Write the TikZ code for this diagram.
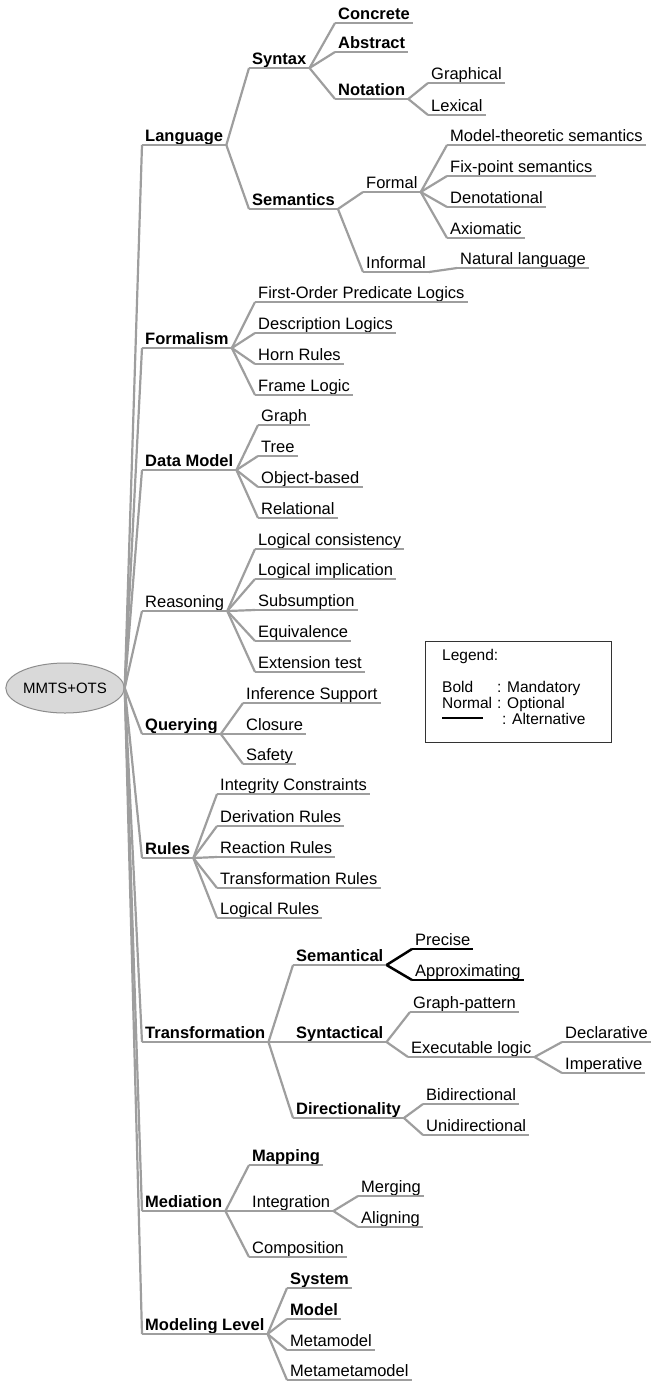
\documentclass[tikz,border=0pt]{standalone}
\usepackage{fontspec}
\setmainfont{Liberation Sans}
\usetikzlibrary{shapes.geometric,positioning}
\definecolor{linegray}{RGB}{158,158,158}
\begin{document}
\begin{tikzpicture}[x=1pt,y=-1pt,
  uline/.style={draw=linegray, line width=2.2pt},
  altline/.style={draw=black, line width=2.5pt},
  link/.style={uline},
  item/.style={anchor=south west, inner xsep=3pt, inner ysep=3pt, text depth=0pt,
    font=\fontsize{16.5}{19}\selectfont,
    append after command={(\tikzlastnode.south west) edge[#1] (\tikzlastnode.south east)}},
  item/.default=uline,
  opt/.style={item},
  mand/.style={item, font=\fontsize{16.5}{19}\selectfont\bfseries},
  alt/.style={item=altline},
  root/.style={ellipse, draw=gray!90, fill=gray!30, line width=1pt, minimum width=104pt,
    minimum height=50pt, inner sep=0pt, font=\fontsize{15}{18}\selectfont},
  legendbox/.style={draw=black!80, line width=0.8pt, anchor=north west, minimum width=186pt,
    minimum height=101pt, inner sep=0pt},
  legendtext/.style={anchor=north west, inner sep=0pt, font=\fontsize{15.5}{16}\selectfont}]
\useasboundingbox (0,0) rectangle (662,1382);
\node[root] (root) at (65,688) {MMTS+OTS};
\node[mand] (lang) at (142,145) {Language};
\node[mand] (formalism) at (142,348) {Formalism};
\node[mand] (datamodel) at (142,470) {Data Model};
\node[opt] (reasoning) at (142,611) {Reasoning};
\node[mand] (querying) at (142,734) {Querying};
\node[mand] (rules) at (142,858) {Rules};
\node[mand] (transf) at (142,1042) {Transformation};
\node[mand] (mediation) at (142,1211) {Mediation};
\node[mand] (modlevel) at (142,1334) {Modeling Level};
\node[mand] (syntax) at (249,68) {Syntax};
\node[mand] (semantics) at (249,209) {Semantics};
\node[mand] (concrete) at (335,23) {Concrete};
\node[mand] (abstract) at (335,52) {Abstract};
\node[mand] (notation) at (335,99) {Notation};
\node[opt] (graphical) at (428,83) {Graphical};
\node[opt] (lexical) at (428,115) {Lexical};
\node[opt] (formal) at (363,192) {Formal};
\node[opt] (informal) at (363,272) {Informal};
\node[opt] (mts) at (447,145) {Model-theoretic semantics};
\node[opt] (fps) at (447,176) {Fix-point semantics};
\node[opt] (denot) at (447,207) {Denotational};
\node[opt] (axiom) at (447,238) {Axiomatic};
\node[opt] (natlang) at (457,268) {Natural language};
\node[opt] (fol) at (255,302) {First-Order Predicate Logics};
\node[opt] (dl) at (255,333) {Description Logics};
\node[opt] (horn) at (255,364) {Horn Rules};
\node[opt] (frame) at (255,395) {Frame Logic};
\node[opt] (graph) at (258,425) {Graph};
\node[opt] (tree) at (258,456) {Tree};
\node[opt] (objbased) at (258,487) {Object-based};
\node[opt] (relational) at (258,518) {Relational};
\node[opt] (consist) at (255,549) {Logical consistency};
\node[opt] (implic) at (255,579) {Logical implication};
\node[opt] (subsum) at (255,610) {Subsumption};
\node[opt] (equiv) at (255,641) {Equivalence};
\node[opt] (exttest) at (255,672) {Extension test};
\node[opt] (infsup) at (243,703) {Inference Support};
\node[opt] (closure) at (243,734) {Closure};
\node[opt] (safety) at (243,764) {Safety};
\node[opt] (integ) at (217,794) {Integrity Constraints};
\node[opt] (deriv) at (217,826) {Derivation Rules};
\node[opt] (react) at (217,857) {Reaction Rules};
\node[opt] (transrules) at (217,888) {Transformation Rules};
\node[opt] (logrules) at (217,918) {Logical Rules};
\node[mand] (semantical) at (293,965) {Semantical};
\node[mand] (syntactical) at (293,1042) {Syntactical};
\node[mand] (direction) at (293,1118) {Directionality};
\node[alt] (precise) at (412,949) {Precise};
\node[alt] (approx) at (412,980) {Approximating};
\node[opt] (graphpat) at (410,1012) {Graph-pattern};
\node[opt] (execlogic) at (408,1057) {Executable logic};
\node[opt] (declar) at (562,1042) {Declarative};
\node[opt] (imper) at (562,1073) {Imperative};
\node[opt] (bidir) at (423,1104) {Bidirectional};
\node[opt] (unidir) at (423,1135) {Unidirectional};
\node[mand] (mapping) at (249,1165) {Mapping};
\node[opt] (integration) at (249,1211) {Integration};
\node[opt] (composition) at (249,1257) {Composition};
\node[opt] (merging) at (358,1196) {Merging};
\node[opt] (aligning) at (358,1227) {Aligning};
\node[mand] (system) at (287,1288) {System};
\node[mand] (model) at (287,1319) {Model};
\node[opt] (metamodel) at (287,1350) {Metamodel};
\node[opt] (metameta) at (287,1380) {Metametamodel};
\node[legendbox] (legend) at (425,641) {};
\node[legendtext, below right=8pt and 17pt of legend.north west] (legendtxt) {%
  \begin{tabular}{@{}l@{\hspace{5pt}}l@{}}
  \multicolumn{2}{@{}l@{}}{Legend:}\\[16pt]
  Bold & : Mandatory\\
  Normal & : Optional\\
  \rule[6pt]{41pt}{2pt} & \hspace{5pt}: Alternative
  \end{tabular}};
\draw[link] (root.east) -- (lang.south west);
\draw[link] (root.east) -- (formalism.south west);
\draw[link] (root.east) -- (datamodel.south west);
\draw[link] (root.east) -- (reasoning.south west);
\draw[link] (root.east) -- (querying.south west);
\draw[link] (root.east) -- (rules.south west);
\draw[link] (root.east) -- (transf.south west);
\draw[link] (root.east) -- (mediation.south west);
\draw[link] (root.east) -- (modlevel.south west);
\draw[link] (lang.south east) -- (syntax.south west);
\draw[link] (lang.south east) -- (semantics.south west);
\draw[link] (syntax.south east) -- (concrete.south west);
\draw[link] (syntax.south east) -- (abstract.south west);
\draw[link] (syntax.south east) -- (notation.south west);
\draw[link] (notation.south east) -- (graphical.south west);
\draw[link] (notation.south east) -- (lexical.south west);
\draw[link] (semantics.south east) -- (formal.south west);
\draw[link] (semantics.south east) -- (informal.south west);
\draw[link] (formal.south east) -- (mts.south west);
\draw[link] (formal.south east) -- (fps.south west);
\draw[link] (formal.south east) -- (denot.south west);
\draw[link] (formal.south east) -- (axiom.south west);
\draw[link] (informal.south east) -- (natlang.south west);
\draw[link] (formalism.south east) -- (fol.south west);
\draw[link] (formalism.south east) -- (dl.south west);
\draw[link] (formalism.south east) -- (horn.south west);
\draw[link] (formalism.south east) -- (frame.south west);
\draw[link] (datamodel.south east) -- (graph.south west);
\draw[link] (datamodel.south east) -- (tree.south west);
\draw[link] (datamodel.south east) -- (objbased.south west);
\draw[link] (datamodel.south east) -- (relational.south west);
\draw[link] (reasoning.south east) -- (consist.south west);
\draw[link] (reasoning.south east) -- (implic.south west);
\draw[link] (reasoning.south east) -- (subsum.south west);
\draw[link] (reasoning.south east) -- (equiv.south west);
\draw[link] (reasoning.south east) -- (exttest.south west);
\draw[link] (querying.south east) -- (infsup.south west);
\draw[link] (querying.south east) -- (closure.south west);
\draw[link] (querying.south east) -- (safety.south west);
\draw[link] (rules.south east) -- (integ.south west);
\draw[link] (rules.south east) -- (deriv.south west);
\draw[link] (rules.south east) -- (react.south west);
\draw[link] (rules.south east) -- (transrules.south west);
\draw[link] (rules.south east) -- (logrules.south west);
\draw[link] (transf.south east) -- (semantical.south west);
\draw[link] (transf.south east) -- (syntactical.south west);
\draw[link] (transf.south east) -- (direction.south west);
\draw[altline] (semantical.south east) -- (precise.south west);
\draw[altline] (semantical.south east) -- (approx.south west);
\draw[link] (syntactical.south east) -- (graphpat.south west);
\draw[link] (syntactical.south east) -- (execlogic.south west);
\draw[link] (execlogic.south east) -- (declar.south west);
\draw[link] (execlogic.south east) -- (imper.south west);
\draw[link] (direction.south east) -- (bidir.south west);
\draw[link] (direction.south east) -- (unidir.south west);
\draw[link] (mediation.south east) -- (mapping.south west);
\draw[link] (mediation.south east) -- (integration.south west);
\draw[link] (mediation.south east) -- (composition.south west);
\draw[link] (integration.south east) -- (merging.south west);
\draw[link] (integration.south east) -- (aligning.south west);
\draw[link] (modlevel.south east) -- (system.south west);
\draw[link] (modlevel.south east) -- (model.south west);
\draw[link] (modlevel.south east) -- (metamodel.south west);
\draw[link] (modlevel.south east) -- (metameta.south west);
\end{tikzpicture}
\end{document}
